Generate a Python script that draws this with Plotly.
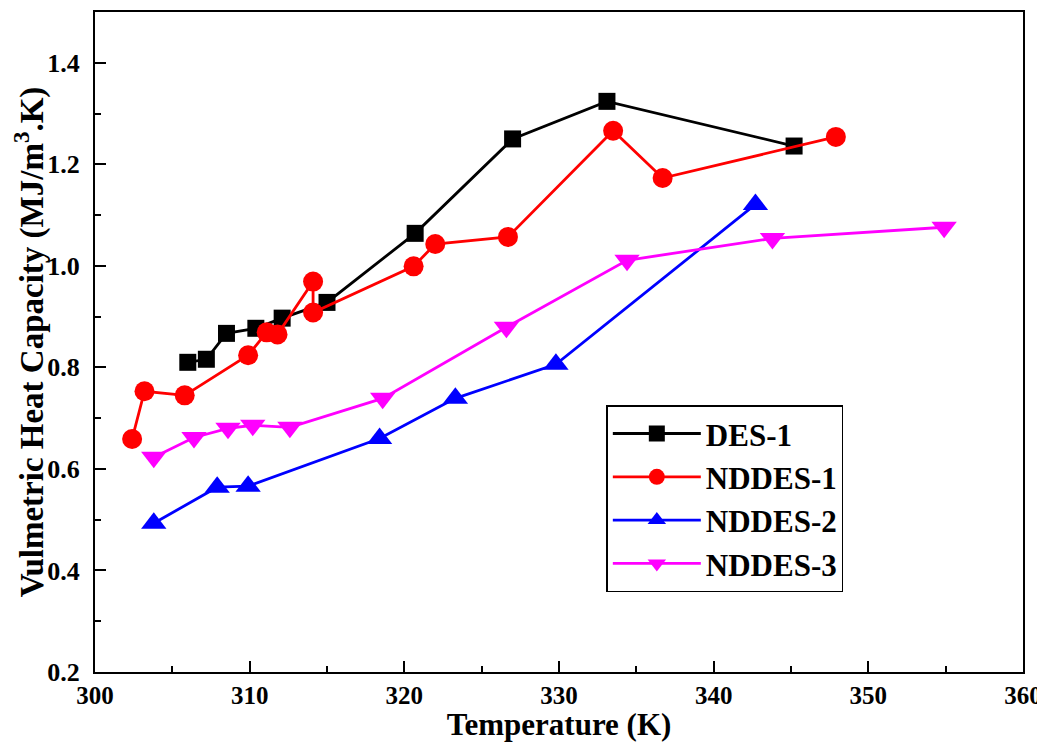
import plotly.graph_objects as go

des1_x = [306.0, 307.2, 308.5, 310.4, 312.1, 315.0, 320.7, 327.0, 333.1, 345.2]
des1_y = [0.810, 0.816, 0.867, 0.877, 0.897, 0.928, 1.064, 1.250, 1.324, 1.236]

nd1_x = [302.4, 303.2, 305.8, 309.9, 311.1, 311.8, 314.1, 314.1, 320.6, 322.0, 326.7, 333.5, 336.7, 347.9]
nd1_y = [0.659, 0.753, 0.745, 0.824, 0.869, 0.865, 0.969, 0.908, 0.999, 1.043, 1.057, 1.266, 1.173, 1.254]

nd2_x = [303.8, 307.9, 309.9, 318.4, 323.3, 329.8, 342.7]
nd2_y = [0.493, 0.564, 0.566, 0.660, 0.739, 0.806, 1.121]

nd3_x = [303.8, 306.4, 308.6, 310.2, 312.6, 318.6, 326.6, 334.4, 343.8, 354.9]
nd3_y = [0.623, 0.662, 0.680, 0.686, 0.682, 0.739, 0.879, 1.011, 1.054, 1.076]

x_ticks = [300, 310, 320, 330, 340, 350, 360]
y_ticks = [0.2, 0.4, 0.6, 0.8, 1.0, 1.2, 1.4]

series = [
    ("DES-1", des1_x, des1_y, "#000000", "square", 17),
    ("NDDES-1", nd1_x, nd1_y, "#ff0000", "circle", 20),
    ("NDDES-2", nd2_x, nd2_y, "#0000ff", "triangle-up", 22),
    ("NDDES-3", nd3_x, nd3_y, "#ff00ff", "triangle-down", 22),
]

FONT = "Liberation Serif"

fig = go.Figure()
for i, (name, xs, ys, col, sym, sz) in enumerate(series):
    fig.add_trace(go.Scatter(
        x=xs, y=ys, name=name, mode="lines+markers",
        line=dict(color=col, width=2.8),
        marker=dict(symbol=sym, size=sz, color=col, line=dict(width=0)),
        legendgroup=f"g{i}",
    ))

fig.update_xaxes(
    range=[300, 360], automargin=False,
    tickmode="array", tickvals=x_ticks, ticktext=[f"<b>{v}</b>" for v in x_ticks],
    showline=True, linecolor="black", linewidth=2, mirror=True,
    ticks="inside", ticklen=11, tickwidth=2, tickcolor="black",
    showgrid=False, zeroline=False,
    tickfont=dict(family=FONT, size=25, color="black"),
    ticklabelstandoff=0,
    minor=dict(ticks="inside", ticklen=6, tickwidth=2, tickcolor="black", dtick=5, tick0=300, showgrid=False),
    title=dict(text="<b>Temperature (K)</b>", font=dict(family=FONT, size=31, color="black"), standoff=2),
)
fig.update_yaxes(
    range=[0.2, 1.5], automargin=False,
    tickmode="array", tickvals=y_ticks, ticktext=[f"<b>{v:.1f}</b>" for v in y_ticks],
    showline=True, linecolor="black", linewidth=2, mirror=True,
    ticks="inside", ticklen=11, tickwidth=2, tickcolor="black",
    showgrid=False, zeroline=False,
    tickfont=dict(family=FONT, size=26, color="black"),
    ticklabelstandoff=8,
    minor=dict(ticks="inside", ticklen=6, tickwidth=2, tickcolor="black", dtick=0.1, tick0=0.2, showgrid=False),
    title=dict(text="<b>Vulmetric Heat Capacity (MJ/m<sup>3</sup>.K)</b>", font=dict(family=FONT, size=33, color="black"), standoff=8),
)

fig.update_layout(
    width=1037, height=734,
    margin=dict(l=87, r=22, t=4, b=70),
    plot_bgcolor="white", paper_bgcolor="white",
    font=dict(family=FONT, color="black"),
    legend=dict(
        x=0.551, y=0.404, xanchor="left", yanchor="top",
        bgcolor="white", bordercolor="black", borderwidth=1.5,
        font=dict(family=FONT, size=31, color="black", weight="bold"),
        tracegroupgap=0, itemwidth=88,
    ),
    showlegend=True,
)

fig.write_html("out.html", post_script="document.body.style.overflow='hidden';")
